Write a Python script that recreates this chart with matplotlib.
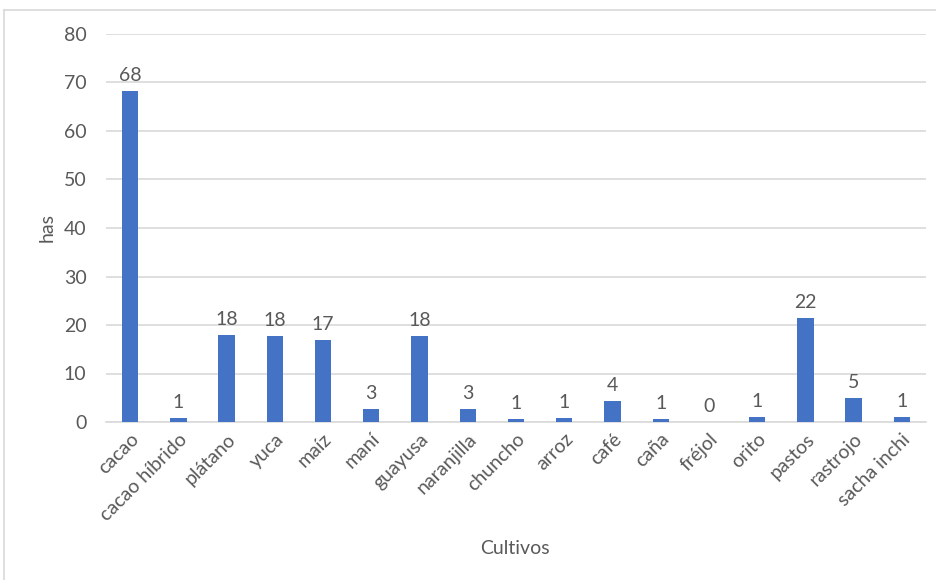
import matplotlib
matplotlib.use("Agg")
import matplotlib.pyplot as plt
from matplotlib.lines import Line2D

categories = ["cacao", "cacao híbrido", "plátano", "yuca", "maíz", "maní", "guayusa",
              "naranjilla", "chuncho", "arroz", "café", "caña", "fréjol", "orito",
              "pastos", "rastrojo", "sacha inchi"]
values = [68.2, 0.8, 17.9, 17.7, 17.0, 2.7, 17.8, 2.6, 0.6, 0.9, 4.3, 0.6, 0.1, 0.95,
          21.5, 4.9, 1.0]
yticks = [0, 10, 20, 30, 40, 50, 60, 70, 80]

plt.rcParams['font.family'] = ['Lato', 'DejaVu Sans']
txt = '#595959'
grid = '#d9d9d9'
fs = 14

fig = plt.figure(figsize=(9.36, 5.8), dpi=100)
ax = fig.add_axes([106/936, 1-422/580, 820/936, 388/580])

x = range(len(categories))
ax.bar(x, values, width=0.34, color='#4472C4', zorder=3)
for xi, v in zip(x, values):
    ax.annotate(f"{int(v + 0.5)}", (xi, v), xytext=(0, 5), textcoords='offset points',
                ha='center', va='bottom', fontsize=fs, color=txt)

ax.set_ylim(0, 80)
ax.set_xlim(-0.5, len(categories) - 0.5)
ax.set_yticks(yticks)
ax.yaxis.grid(True, color=grid, linewidth=1.2, zorder=0)
ax.set_axisbelow(True)
for s in ['top', 'right', 'left']:
    ax.spines[s].set_visible(False)
ax.spines['bottom'].set_color(grid)
ax.spines['bottom'].set_linewidth(1.2)
ax.tick_params(axis='both', length=0, labelsize=fs, labelcolor=txt)
ax.tick_params(axis='y', pad=14)
ax.set_xticks(list(x))
ax.set_xticklabels(categories, rotation=45, ha='right', rotation_mode='anchor')
ax.tick_params(axis='x', pad=6)

fig.text(47/936, 1-228/580, 'has', rotation=90, ha='center', va='center', fontsize=fs, color=txt)
fig.text(515/936, 1-548/580, 'Cultivos', ha='center', va='center', fontsize=fs, color=txt)

fig.add_artist(Line2D([4/936, 1], [1-10/580, 1-10/580], color='#d9d9d9', linewidth=1.2, transform=fig.transFigure))
fig.add_artist(Line2D([4/936, 4/936], [0, 1-10/580], color='#d9d9d9', linewidth=1.2, transform=fig.transFigure))

fig.savefig('out.png', dpi=100)
